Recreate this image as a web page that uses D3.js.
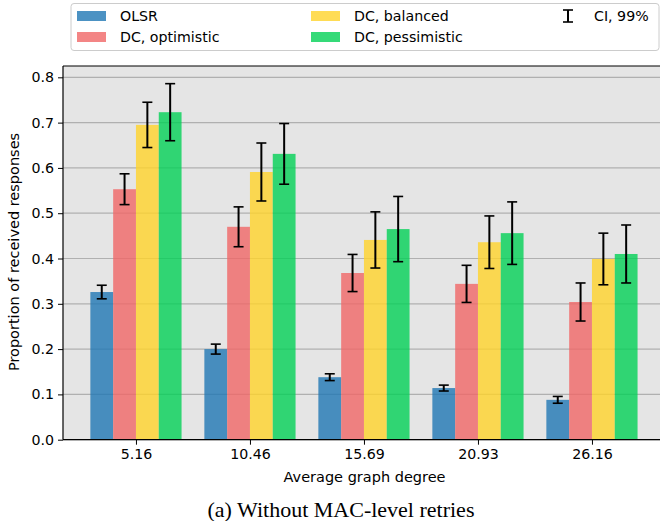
<!DOCTYPE html>
<html>
<head>
<meta charset="utf-8">
<script src="https://cdn.jsdelivr.net/npm/d3@7"></script>
<style>
body { margin: 0; background: #fff; }
svg { display: block; font-family: "DejaVu Sans", sans-serif; }
</style>
</head>
<body>
<div id="chart"></div>
<script>
// data
var degrees = ['5.16', '10.46', '15.69', '20.93', '26.16'];
var seriesNames = ['OLSR', 'DC, optimistic', 'DC, balanced', 'DC, pessimistic'];
var olsr        = [0.326, 0.200, 0.138, 0.114, 0.088];
var optimistic  = [0.553, 0.470, 0.368, 0.344, 0.304];
var balanced    = [0.695, 0.591, 0.441, 0.436, 0.399];
var pessimistic = [0.723, 0.631, 0.465, 0.456, 0.410];
// half width of the 99% confidence interval
var olsrErr        = [0.015, 0.011, 0.0075, 0.0065, 0.0075];
var optimisticErr  = [0.034, 0.044, 0.041, 0.041, 0.042];
var balancedErr    = [0.050, 0.064, 0.062, 0.058, 0.057];
var pessimisticErr = [0.063, 0.067, 0.072, 0.069, 0.064];
var yTicks = [0, 0.1, 0.2, 0.3, 0.4, 0.5, 0.6, 0.7, 0.8];

var values = [olsr, optimistic, balanced, pessimistic];
var errors = [olsrErr, optimisticErr, balancedErr, pessimisticErr];
var colors = ['#1f77b4', '#f06767', '#ffd32b', '#03d156'];

var width = 660, height = 521;
var svg = d3.select('#chart').append('svg')
    .attr('width', width)
    .attr('height', height);

var plot = {l: 63, t: 66, b: 439.7};

// bar centres at 0..4, bars 0.2 wide, matplotlib-like margins
var x = d3.scaleLinear().domain([-0.64, 4.64]).range([plot.l, plot.l + 5.28 * 114]);
var y = d3.scaleLinear().domain([0, 0.825]).range([plot.b, plot.t]);
var barW = 0.2;

svg.append('rect')
    .attr('x', plot.l).attr('y', plot.t)
    .attr('width', width - plot.l + 10).attr('height', plot.b - plot.t)
    .attr('fill', '#e5e5e5');

// grid
svg.append('g').selectAll('line')
    .data(yTicks)
    .enter().append('line')
    .attr('x1', plot.l).attr('x2', width + 10)
    .attr('y1', function(d) { return y(d); })
    .attr('y2', function(d) { return y(d); })
    .attr('stroke', '#b0b0b0')
    .attr('stroke-width', 1.2);

// bars
var rows = [];
values.forEach(function(s, si) {
  s.forEach(function(v, gi) {
    rows.push({s: si, g: gi, v: v, e: errors[si][gi]});
  });
});

svg.append('g').selectAll('rect')
    .data(rows)
    .enter().append('rect')
    .attr('x', function(d) { return x(d.g + (d.s - 2) * barW); })
    .attr('width', x(barW) - x(0))
    .attr('y', function(d) { return y(d.v); })
    .attr('height', function(d) { return y(0) - y(d.v); })
    .attr('fill', function(d) { return colors[d.s]; })
    .attr('fill-opacity', 0.8);

// error bars
var eb = svg.append('g').attr('stroke', '#000');
rows.forEach(function(d) {
  var cx = x(d.g + (d.s - 1.5) * barW);
  eb.append('line')
      .attr('x1', cx).attr('x2', cx)
      .attr('y1', y(d.v - d.e)).attr('y2', y(d.v + d.e))
      .attr('stroke-width', 2);
  [d.v - d.e, d.v + d.e].forEach(function(c) {
    eb.append('line')
        .attr('x1', cx - 5).attr('x2', cx + 5)
        .attr('y1', y(c)).attr('y2', y(c))
        .attr('stroke-width', 1.6);
  });
});

// axes
var xAxis = d3.axisBottom(x)
    .tickValues(d3.range(degrees.length))
    .tickFormat(function(i) { return degrees[i]; })
    .tickSize(5).tickPadding(4);
var gx = svg.append('g')
    .attr('transform', 'translate(0,' + plot.b + ')')
    .call(xAxis);
gx.select('.domain').remove();

var yAxis = d3.axisLeft(y)
    .tickValues(yTicks)
    .tickFormat(d3.format('.1f'))
    .tickSize(5).tickPadding(4);
var gy = svg.append('g')
    .attr('transform', 'translate(' + plot.l + ',0)')
    .call(yAxis);
gy.select('.domain').remove();

svg.selectAll('.tick text')
    .attr('font-family', '"DejaVu Sans", sans-serif')
    .attr('font-size', '14.2px')
    .attr('fill', '#000');
svg.selectAll('.tick line').attr('stroke', '#000').attr('stroke-width', 1);

// spines
svg.append('line').attr('x1', plot.l).attr('x2', width + 5)
    .attr('y1', plot.b).attr('y2', plot.b).attr('stroke', '#000').attr('stroke-width', 1.2);
svg.append('line').attr('x1', plot.l).attr('x2', width + 5)
    .attr('y1', plot.t).attr('y2', plot.t).attr('stroke', '#000').attr('stroke-width', 1.2);
svg.append('line').attr('x1', plot.l).attr('x2', plot.l)
    .attr('y1', plot.t).attr('y2', plot.b).attr('stroke', '#000').attr('stroke-width', 1.2);

// axis titles
svg.append('text')
    .attr('x', 364.5).attr('y', 482)
    .attr('text-anchor', 'middle')
    .attr('font-size', '14.5px')
    .text('Average graph degree');

svg.append('text')
    .attr('transform', 'translate(19,252) rotate(-90)')
    .attr('text-anchor', 'middle')
    .attr('font-size', '14.5px')
    .text('Proportion of received responses');

svg.append('text')
    .attr('x', 341).attr('y', 517)
    .attr('text-anchor', 'middle')
    .attr('font-family', '"Liberation Serif", serif')
    .attr('font-size', '22px')
    .text('(a) Without MAC-level retries');

// legend
var legend = svg.append('g');
legend.append('rect')
    .attr('x', 71).attr('y', 3.5)
    .attr('width', 588).attr('height', 47)
    .attr('rx', 3)
    .attr('fill', '#fff').attr('fill-opacity', 0.8)
    .attr('stroke', '#cccccc');

var legendPos = [[77, 16], [77, 37], [311, 16], [311, 37]];
seriesNames.forEach(function(name, i) {
  var p = legendPos[i];
  legend.append('rect')
      .attr('x', p[0]).attr('y', p[1] - 5)
      .attr('width', 29).attr('height', 10)
      .attr('fill', colors[i]).attr('fill-opacity', 0.8);
  legend.append('text')
      .attr('x', p[0] + 43).attr('y', p[1] + 5)
      .attr('font-size', '14.2px')
      .text(name);
});

// CI glyph
var ci = legend.append('g').attr('stroke', '#000');
ci.append('line').attr('x1', 568).attr('x2', 568).attr('y1', 10).attr('y2', 22).attr('stroke-width', 2);
ci.append('line').attr('x1', 563).attr('x2', 573).attr('y1', 10).attr('y2', 10).attr('stroke-width', 1.6);
ci.append('line').attr('x1', 563).attr('x2', 573).attr('y1', 22).attr('y2', 22).attr('stroke-width', 1.6);
legend.append('text')
    .attr('x', 594).attr('y', 21)
    .attr('font-size', '14.2px')
    .text('CI, 99%');
</script>
</body>
</html>
